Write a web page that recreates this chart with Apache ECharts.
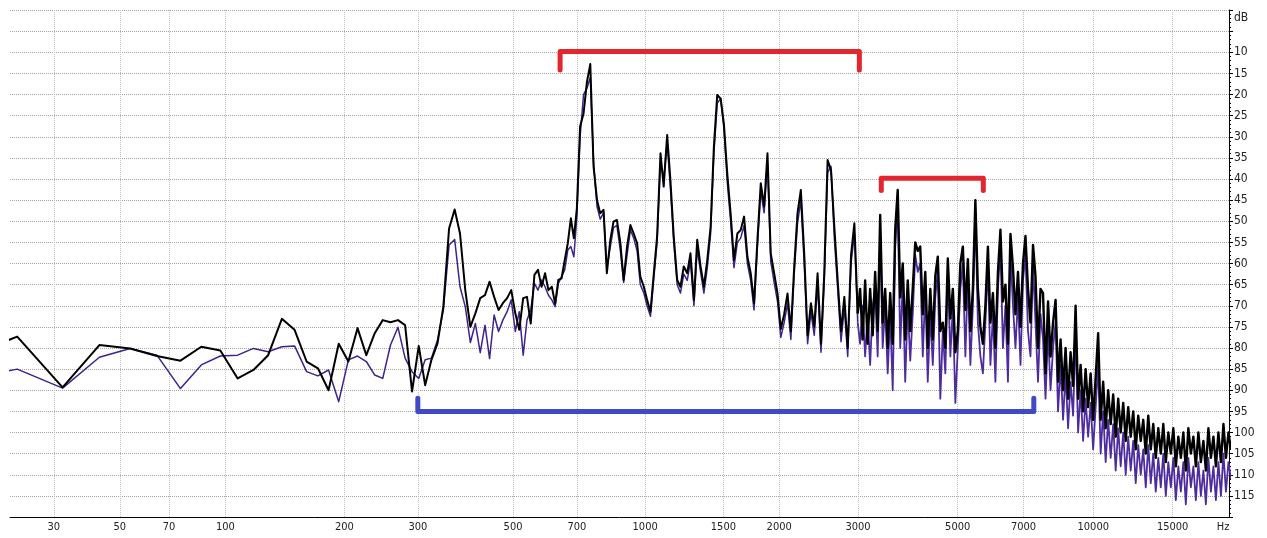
<!DOCTYPE html>
<html><head><meta charset="utf-8">
<script src="https://cdn.jsdelivr.net/npm/echarts@6/dist/echarts.min.js"></script>
<style>html,body{margin:0;padding:0;background:#fff}#c{width:1267px;height:538px}</style>
</head><body><div id="c"></div>
<script>
// ---- frequencies (Hz) ----
const freqLow = [
 10.8, 21.5, 32.3, 43.1, 53.8, 64.6, 75.4, 86.1, 96.9, 107.7,
 118.4, 129.2, 140.0, 150.7, 161.5, 172.3, 183.0, 193.8, 204.6, 215.3,
 226.1, 236.9, 247.6, 258.4, 269.2, 279.9, 290.7, 301.5, 312.2, 323.0,
 333.8, 344.5, 355.3, 366.1, 376.8, 387.6, 398.3, 409.1, 419.9, 430.7,
 441.4, 452.2, 463.0, 473.7, 484.5, 495.3, 506.0, 516.8, 527.6, 538.3,
 549.1, 559.9, 570.6, 581.4, 592.2, 602.9, 613.7, 624.5, 635.2, 646.0,
 656.8, 667.5, 678.3, 689.1
];
const freqMid = [
 700, 712, 725, 738, 751, 764, 778, 791, 805, 819,
 834, 848, 863, 879, 894, 910, 926, 942, 959, 975,
 993, 1010, 1028, 1046, 1064, 1083, 1101, 1121, 1140, 1160,
 1181, 1201, 1222, 1244, 1265, 1288, 1310, 1333, 1356, 1380,
 1404, 1428, 1453, 1479, 1504, 1531, 1557, 1584, 1612, 1640,
 1669, 1698, 1727, 1757, 1788, 1819, 1851, 1883, 1915, 1949,
 1983, 2017, 2052, 2088, 2124, 2161, 2198, 2236, 2275, 2315,
 2355, 2396, 2437, 2480, 2522, 2566, 2611, 2656, 2702, 2749,
 2796, 2845, 2894, 2944, 2995
];
const freqHigh = [
 3032, 3071, 3111,
 3151, 3192, 3234, 3275,  3318, 3361, 3404, 3448,
 3493, 3538, 3584, 3630,  3677, 3725, 3773, 3821,
 3871, 3921, 3971, 4023,  4075, 4127, 4181, 4235,
 4289, 4345, 4401, 4458,  4515, 4574, 4633, 4693,
 4753, 4815, 4877, 4940,  5003, 5068, 5133, 5200,
 5267, 5335, 5404, 5473,  5544, 5616, 5688, 5761,
 5836, 5911, 5987, 6064,  6143, 6222, 6302, 6383,
 6466, 6549, 6634, 6719,  6806, 6894, 6982, 7072,
 7164, 7256, 7350, 7444,  7540, 7637, 7736, 7836,
 7937, 8039, 8143, 8248,  8354, 8462, 8571, 8681,
 8793, 8906, 9021, 9137,  9255, 9374, 9495, 9617,
 9741, 9867, 9994, 10123,  10253, 10385, 10519, 10654,
 10792, 10931, 11072, 11214,  11359, 11505, 11653, 11804,
 11955, 12109, 12265, 12423,  12583, 12745, 12909, 13075,
 13244, 13414, 13587, 13762,  13940, 14119, 14301, 14485,
 14672, 14861, 15052, 15246,  15442, 15641, 15842, 16046,
 16253, 16462, 16674, 16888,  17106, 17326, 17549, 17775,
 18004, 18236, 18470, 18708,  18949, 19193, 19440, 19690,
 19944, 20200
];

// ---- levels (dB), black trace ----
const blackLow = [
 -82.8, -77.3, -89.3, -79.3, -80.1, -81.9, -83.0, -79.7, -80.6, -87.2,
 -85.2, -81.7, -73.1, -75.7, -83.2, -84.8, -90.0, -79.0, -83.2, -75.3,
 -81.7, -76.5, -73.4, -73.9, -73.4, -74.6, -90.3, -79.5, -88.8, -82.8,
 -78.9, -70.2, -51.7, -47.2, -52.9, -66.3, -75.0, -71.8, -68.2, -67.5,
 -64.3, -67.9, -71.0, -69.4, -68.2, -66.3, -71.8, -75.7, -68.2, -67.9,
 -74.2, -62.7, -61.5, -65.5, -62.3, -66.3, -65.5, -69.5, -63.9, -63.5,
 -59.2, -55.2, -49.3, -54.0
];
const blackMid = [
 -47.0, -27.6, -24.5, -17.0, -12.8, -37.1, -45.0, -48.1, -47.3, -62.3,
 -54.4, -50.1, -49.7, -55.2, -63.9, -56.0, -50.9, -52.9, -55.2, -63.1,
 -65.5, -68.6, -71.4, -62.3, -53.6, -33.9, -41.8, -29.6, -40.2, -53.6,
 -63.9, -65.5, -60.7, -62.3, -57.6, -68.6, -54.4, -60.7, -65.5, -59.2,
 -51.3, -32.3, -20.1, -21.0, -27.0, -39.0, -48.1, -59.2, -52.9, -52.1,
 -48.9, -58.4, -62.3, -69.4, -54.4, -41.0, -46.5, -33.9, -57.6, -62.3,
 -67.1, -75.5, -72.0, -67.1, -76.0, -60.7, -48.1, -42.6, -57.6, -77.0,
 -69.4, -75.0, -62.3, -79.0, -62.3, -35.5, -37.9, -51.3, -63.9, -76.0,
 -67.9, -80.0, -58.0, -50.5, -71.8
];
const blackHigh = [
 -66, -78, -64,
 -79, -66, -77, -62,  -76, -48.5, -74, -66,
 -80, -67, -79, -52,  -42.6, -68, -60, -78,
 -64, -76, -66, -55,  -57, -56, -72, -62,
 -80, -66, -78, -63,  -58.4, -76, -74, -80,
 -58.8, -73, -66, -81,  -76, -60, -56, -71,
 -59, -76, -66, -45,  -66, -75, -79, -70,
 -56, -74, -67, -80,  -62, -52, -69, -65,
 -79, -53, -61, -72,  -62, -75, -60, -53.5,
 -66, -74, -55.6, -63,  -80, -66, -67, -86,
 -69, -82, -74, -68.6,  -88, -78, -90, -80,
 -92, -81, -89, -70,  -92, -84, -95, -85,
 -94, -86, -97, -87,  -76.5, -97, -88, -99,
 -90, -98, -91, -101,  -92, -100, -93, -102,
 -94, -101, -95, -104,  -96, -102, -97, -105,
 -96, -104, -98, -106,  -99, -105, -98, -107,
 -100, -105, -99, -108,  -101, -106, -100, -109,
 -99, -105, -101, -108,  -100, -107, -102, -109,
 -99, -106, -101, -108,  -100, -107, -98, -106,
 -100, -104
];

// ---- levels (dB), purple trace ----
const purpleLow = [
 -87.8, -85.0, -89.5, -82.2, -80.1, -81.7, -89.6, -84.0, -81.9, -81.7,
 -80.1, -80.9, -79.7, -79.5, -85.6, -86.6, -85.2, -92.7, -82.8, -81.9,
 -83.2, -86.4, -87.2, -79.3, -75.1, -82.4, -85.6, -87.2, -82.8, -82.4,
 -78.1, -71.0, -55.6, -54.3, -65.5, -70.2, -78.7, -74.2, -81.1, -74.6,
 -82.5, -72.2, -76.1, -73.4, -71.4, -68.6, -76.1, -71.4, -81.7, -73.4,
 -71.0, -64.7, -66.3, -63.9, -65.5, -67.5, -68.6, -70.2, -64.7, -63.1,
 -61.5, -56.8, -56.0, -58.4
];
const purpleMid = [
 -49, -30, -20, -18.5, -16, -36, -46.5, -49.5, -48, -61,
 -56, -51.5, -51, -57, -64.5, -58, -52, -54, -57, -65,
 -67, -70, -72.5, -63.5, -55, -36, -40, -31.5, -42, -55,
 -65, -67, -62.5, -64, -59.5, -70, -56.5, -62, -67, -61,
 -53, -34, -22, -21, -28, -41, -50, -61, -55, -54,
 -51, -60, -64, -71, -56, -43, -48, -36, -59.5, -64.5,
 -69, -77.5, -74, -69.5, -78, -62.5, -50.5, -45, -60, -79,
 -71.5, -77, -65, -81, -64.5, -38.5, -37, -54, -66, -78.5,
 -70.5, -82, -60, -53, -74
];
const purpleHigh = [
 -79, -70, -82,
 -72, -84, -70, -66,  -82, -52, -80, -70,
 -86, -72, -90, -56,  -46, -80, -64, -88,
 -70, -83, -72, -58,  -62, -60, -82, -66,
 -88, -72, -84, -68,  -62, -92, -76, -86,
 -62, -82, -70, -93,  -80, -66, -60, -82,
 -63, -84, -70, -48,  -74, -82, -86, -74,
 -60, -84, -72, -88,  -66, -56, -80, -70,
 -88, -57, -70, -80,  -68, -84, -64, -58,
 -76, -82, -60, -74,  -88, -72, -78, -92,
 -76, -90, -80, -74,  -95, -84, -97, -86,
 -99, -88, -96, -76,  -100, -90, -102, -92,
 -101, -93, -104, -94,  -84, -105, -95, -107,
 -97, -106, -98, -109,  -99, -108, -100, -110,
 -101, -109, -102, -112,  -103, -110, -104, -113,
 -103, -112, -105, -114,  -106, -113, -105, -115,
 -107, -113, -106, -116,  -108, -114, -107, -117,
 -106, -113, -108, -116,  -107, -115, -109, -117,
 -106, -114, -108, -116,  -107, -115, -105, -114,
 -107, -111
];

// ---- annotation brackets [Hz, dB] ----
const bracketRedWide = [[641, -14.2], [641, -9.8], [3020, -9.8], [3020, -14.2]];
const bracketRedNarrow = [[3380, -42.7], [3380, -39.8], [5700, -39.8], [5700, -42.7]];
const bracketBlue = [[300, -91.9], [300, -95.0], [7380, -95.0], [7380, -91.9]];

// ---- axis ticks ----
const xTickHz = [30, 50, 70, 100, 200, 300, 500, 700, 1000, 1500, 2000, 3000, 5000, 7000, 10000, 15000, 20000];
const yHiddenLabels = [0, -5, -120];

// analyser frequency scale: log of (f + 20)
function warp(f) { return Math.log10(f + 20); }
function unwarp(v) { return Math.round(Math.pow(10, v) - 20); }

const toPts = (fs, ls) => fs.map((f, i) => [warp(f), ls[i]]);
const bracketPts = b => b.map(p => [warp(p[0]), p[1]]);
// lower band (low + mid) and dense upper band (joined at the last mid point)
const blackLowerPts = toPts(freqLow.concat(freqMid), blackLow.concat(blackMid));
const purpleLowerPts = toPts(freqLow.concat(freqMid), purpleLow.concat(purpleMid));
const blackUpperPts = [blackLowerPts[blackLowerPts.length - 1]].concat(toPts(freqHigh, blackHigh));
const purpleUpperPts = [purpleLowerPts[purpleLowerPts.length - 1]].concat(toPts(freqHigh, purpleHigh));

const FONT = '"DejaVu Sans Condensed", "DejaVu Sans", sans-serif';
const line = (data, color, width, z) => ({ type: 'line', data, symbol: 'none', silent: true, z,
  lineStyle: { color, width, join: 'round' } });
const bracket = (data, color) => ({ type: 'line', data: bracketPts(data), symbol: 'none', silent: true, z: 6,
  lineStyle: { color, width: 5, cap: 'round', join: 'round' } });

const chart = echarts.init(document.getElementById('c'), null, { renderer: 'canvas' });
chart.setOption({
  animation: false,
  backgroundColor: '#ffffff',
  grid: { left: 10, right: 38, top: 10, bottom: 21, containLabel: false },
  xAxis: {
    type: 'value', min: warp(20), max: warp(20000),
    axisLine: { show: true, onZero: false, lineStyle: { color: '#000', width: 1 } },
    axisTick: { show: false, customValues: xTickHz.map(warp) },
    axisLabel: {
      customValues: xTickHz.map(warp),
      formatter: v => { const f = unwarp(v); return f === 20000 ? '{hz|Hz}' : String(f); },
      color: '#222', fontFamily: FONT, fontSize: 11, margin: 5,
      rich: { hz: { padding: [0, 12, 0, 0], color: '#222', fontFamily: FONT, fontSize: 11 } }
    },
    splitLine: { show: true, lineStyle: { color: '#c2c2c2', type: 'dotted', width: 1 } }
  },
  yAxis: {
    type: 'value', position: 'right', min: -120, max: 0, interval: 5,
    name: 'dB', nameLocation: 'end', nameGap: -8,
    nameTextStyle: { align: 'left', verticalAlign: 'middle', padding: [0, 0, 0, 5], color: '#222', fontFamily: FONT, fontSize: 12 },
    axisLine: { show: true, onZero: false, lineStyle: { color: '#000', width: 1 } },
    axisTick: { show: true, inside: false, length: 4, lineStyle: { color: '#000' } },
    minorTick: { show: true, splitNumber: 5, length: 2, lineStyle: { color: '#000' } },
    axisLabel: {
      margin: 5, color: '#222', fontFamily: FONT, fontSize: 12,
      formatter: v => yHiddenLabels.includes(v) ? '' : String(-v)
    },
    splitLine: { show: true, lineStyle: { color: '#a4a4a4', type: 'dotted', width: 1 } }
  },
  series: [
    line(purpleLowerPts, '#40228a', 1.5, 2),
    line(purpleUpperPts, '#4e2c9e', 1.8, 2),
    line(blackLowerPts, '#000000', 2, 3),
    line(blackUpperPts, '#000000', 2.4, 3),
    bracket(bracketRedWide, '#e3262d'),
    bracket(bracketRedNarrow, '#e3262d'),
    bracket(bracketBlue, '#3f4bc6')
  ]
});
</script>
</body></html>
